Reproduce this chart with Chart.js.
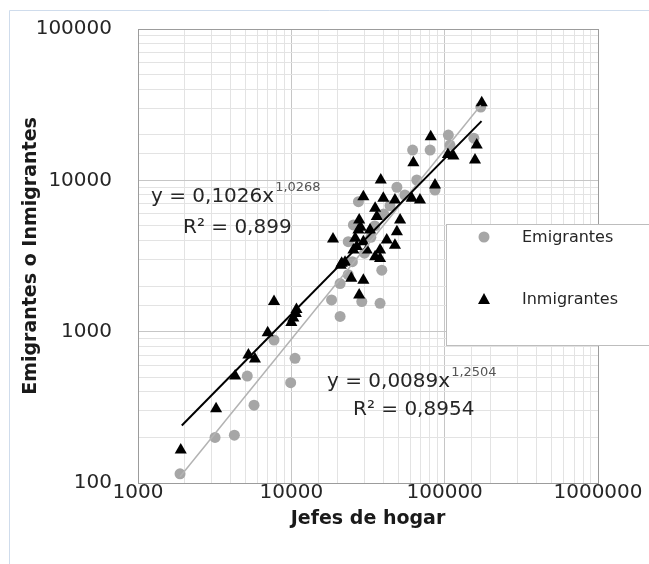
<!DOCTYPE html>
<html>
<head>
<meta charset="utf-8">
<script src="https://cdn.jsdelivr.net/npm/chart.js@4.4.1/dist/chart.umd.min.js"></script>
<style>
    html, body { margin: 0; padding: 0; background: #fff; }
    #wrap { position: relative; width: 649px; height: 564px; }
</style>
</head>
<body>
<div id="wrap"><canvas id="chart" width="649" height="564"></canvas></div>
<script>
// Jefes de hogar vs emigrantes / inmigrantes (log-log)
const emiX = [1880, 3180, 4250, 5710, 5160, 7710, 9900, 10570, 18300, 20800, 20800, 23500, 23500,
    28800, 37900, 38900, 25400, 27400, 30000, 33000, 35000, 40000, 44000, 25000, 48800, 55000,
    61800, 80400, 65800, 86500, 105700, 108300, 155000, 172000];
const emiY = [115, 200, 207, 327, 509, 881, 460, 667, 1620, 1260, 2080, 3930, 2380,
    1580, 1540, 2550, 5070, 7230, 3300, 4200, 5000, 6000, 6800, 2900, 9000, 8000,
    15850, 15850, 10050, 8630, 19900, 17100, 19000, 30500];

const inmX = [1900, 3230, 4300, 5250, 5790, 7010, 7710, 10000, 10300, 10700, 10800,
    18700, 21000, 21300, 22400, 24600, 27700, 29500, 29500, 27700, 28300, 27400, 26100,
    26700, 29500, 31000, 25400, 32600, 35200, 36100, 35200, 37900, 37900, 38300, 39800,
    41900, 47400, 47400, 48800, 51200, 62500, 61000, 69000, 81100, 86500, 105000, 114000,
    157700, 161800, 174500];
const inmY = [165, 310, 510, 700, 660, 985, 1580, 1150, 1230, 1320, 1400,
    4100, 2750, 2830, 2870, 2250, 1750, 2190, 7800, 5470, 4900, 4700, 4140,
    3650, 3930, 3460, 3460, 4700, 6530, 5760, 3130, 3460, 3050, 10040, 7600,
    4030, 7410, 3730, 4570, 5470, 13060, 7600, 7410, 19400, 9310, 14800, 14500,
    13600, 17100, 32600];

// trendline ends
const emiTrendX = [1880, 172000];
const emiTrendY = [110, 31300];
const inmTrendX = [1930, 174000];
const inmTrendY = [240, 24600];

const xTicks = [1000, 10000, 100000, 1000000];
const yTicks = [100, 1000, 10000, 100000];

const labels = ['Emigrantes', 'Inmigrantes'];
const emiEq = ['y = 0,0089x', '1,2504', 'R² = 0,8954'];
const inmEq = ['y = 0,1026x', '1,0268', 'R² = 0,899'];

const FONT = 'DejaVu Sans';

const pts = (xs, ys) => xs.map((x, i) => ({ x: x, y: ys[i] }));

function isDecade(v) {
    const e = Math.log10(v);
    return Math.abs(e - Math.round(e)) < 1e-6;
}

function gridColor(ctx) {
    const v = ctx.tick ? ctx.tick.value : 0;
    if (v === ctx.scale.max) return '#9c9c9c';
    return isDecade(v) ? '#c6c6c6' : '#e3e3e3';
}

function tickLabel(list) {
    return v => (list.includes(v) ? String(v) : '');
}

const frame = {
    id: 'frame',
    beforeDraw(chart) {
        const ctx = chart.ctx;
        ctx.save();
        ctx.strokeStyle = '#cfdcec';
        ctx.lineWidth = 1;
        ctx.beginPath();
        ctx.moveTo(9.5, 564);
        ctx.lineTo(9.5, 10.5);
        ctx.lineTo(649, 10.5);
        ctx.stroke();
        ctx.restore();
    }
};

const notes = {
    id: 'notes',
    afterDatasetsDraw(chart) {
        const ctx = chart.ctx;
        ctx.save();
        ctx.textBaseline = 'middle';
        ctx.fillStyle = '#262626';

        const eq = (txt, x, y) => {
            ctx.font = '20px ' + FONT;
            ctx.fillText(txt[0], x, y);
            const w = ctx.measureText(txt[0]).width;
            ctx.font = '13px ' + FONT;
            ctx.fillStyle = '#555';
            ctx.fillText(txt[1], x + w + 1, y - 9);
            ctx.fillStyle = '#262626';
        };
        eq(inmEq, 151, 197);
        ctx.font = '20px ' + FONT;
        ctx.fillText(inmEq[2], 183, 228);
        eq(emiEq, 327, 382);
        ctx.font = '20px ' + FONT;
        ctx.fillText(emiEq[2], 353, 410);

        // legend box
        ctx.fillStyle = '#fff';
        ctx.fillRect(446, 224, 220, 122);
        ctx.strokeStyle = '#bdbdbd';
        ctx.lineWidth = 1;
        ctx.strokeRect(446.5, 224.5, 220, 121);

        ctx.fillStyle = '#a6a6a6';
        ctx.beginPath();
        ctx.arc(484, 237, 5.5, 0, Math.PI * 2);
        ctx.fill();

        ctx.fillStyle = '#000';
        ctx.beginPath();
        ctx.moveTo(484, 293);
        ctx.lineTo(490, 304);
        ctx.lineTo(478, 304);
        ctx.closePath();
        ctx.fill();

        ctx.fillStyle = '#262626';
        ctx.font = '16px ' + FONT;
        ctx.fillText(labels[0], 522, 238);
        ctx.fillText(labels[1], 522, 300);
        ctx.restore();
    }
};

new Chart(document.getElementById('chart'), {
    type: 'scatter',
    data: {
        datasets: [
            {
                label: 'trend ' + labels[1],
                data: pts(inmTrendX, inmTrendY),
                showLine: true,
                borderColor: '#000',
                borderWidth: 2,
                pointRadius: 0,
                order: 0
            },
            {
                label: 'trend ' + labels[0],
                data: pts(emiTrendX, emiTrendY),
                showLine: true,
                borderColor: '#b3b3b3',
                borderWidth: 1.5,
                pointRadius: 0,
                order: 1
            },
            {
                label: labels[1],
                data: pts(inmX, inmY),
                pointStyle: 'triangle',
                pointRadius: 7,
                backgroundColor: '#000',
                borderWidth: 0,
                order: 2
            },
            {
                label: labels[0],
                data: pts(emiX, emiY),
                pointStyle: 'circle',
                pointRadius: 5.5,
                backgroundColor: '#a6a6a6',
                borderWidth: 0,
                order: 3
            }
        ]
    },
    options: {
        responsive: false,
        animation: false,
        devicePixelRatio: 1,
        layout: { padding: { left: 0, top: 29, right: 51, bottom: 0 } },
        plugins: {
            legend: { display: false },
            tooltip: { enabled: false }
        },
        scales: {
            x: {
                type: 'logarithmic',
                min: 1000,
                max: 1000000,
                afterFit: s => { s.height = 81; },
                grid: { color: gridColor, drawTicks: false },
                border: { color: '#9c9c9c', width: 1 },
                ticks: {
                    callback: tickLabel(xTicks),
                    autoSkip: false,
                    maxRotation: 0,
                    padding: 0,
                    color: '#262626',
                    font: { family: FONT, size: 20, lineHeight: 1 }
                },
                title: {
                    display: true,
                    text: 'Jefes de hogar',
                    color: '#1a1a1a',
                    font: { family: FONT, size: 19, weight: 'bold', lineHeight: 1.2 },
                    padding: { top: 0, bottom: 34 }
                }
            },
            y: {
                type: 'logarithmic',
                min: 100,
                max: 100000,
                afterFit: s => { s.width = 138; },
                grid: {
                    color: gridColor,
                    drawTicks: true,
                    tickLength: 26,
                    tickColor: 'rgba(0,0,0,0)'
                },
                border: { color: '#9c9c9c', width: 1 },
                ticks: {
                    callback: tickLabel(yTicks),
                    autoSkip: false,
                    padding: 0,
                    color: '#262626',
                    font: { family: FONT, size: 20, lineHeight: 1 }
                },
                title: {
                    display: true,
                    text: 'Emigrantes o Inmigrantes',
                    color: '#1a1a1a',
                    font: { family: FONT, size: 19, weight: 'bold', lineHeight: 1.2 },
                    padding: { top: 20, bottom: 0 }
                }
            }
        }
    },
    plugins: [frame, notes]
});
</script>
</body>
</html>
